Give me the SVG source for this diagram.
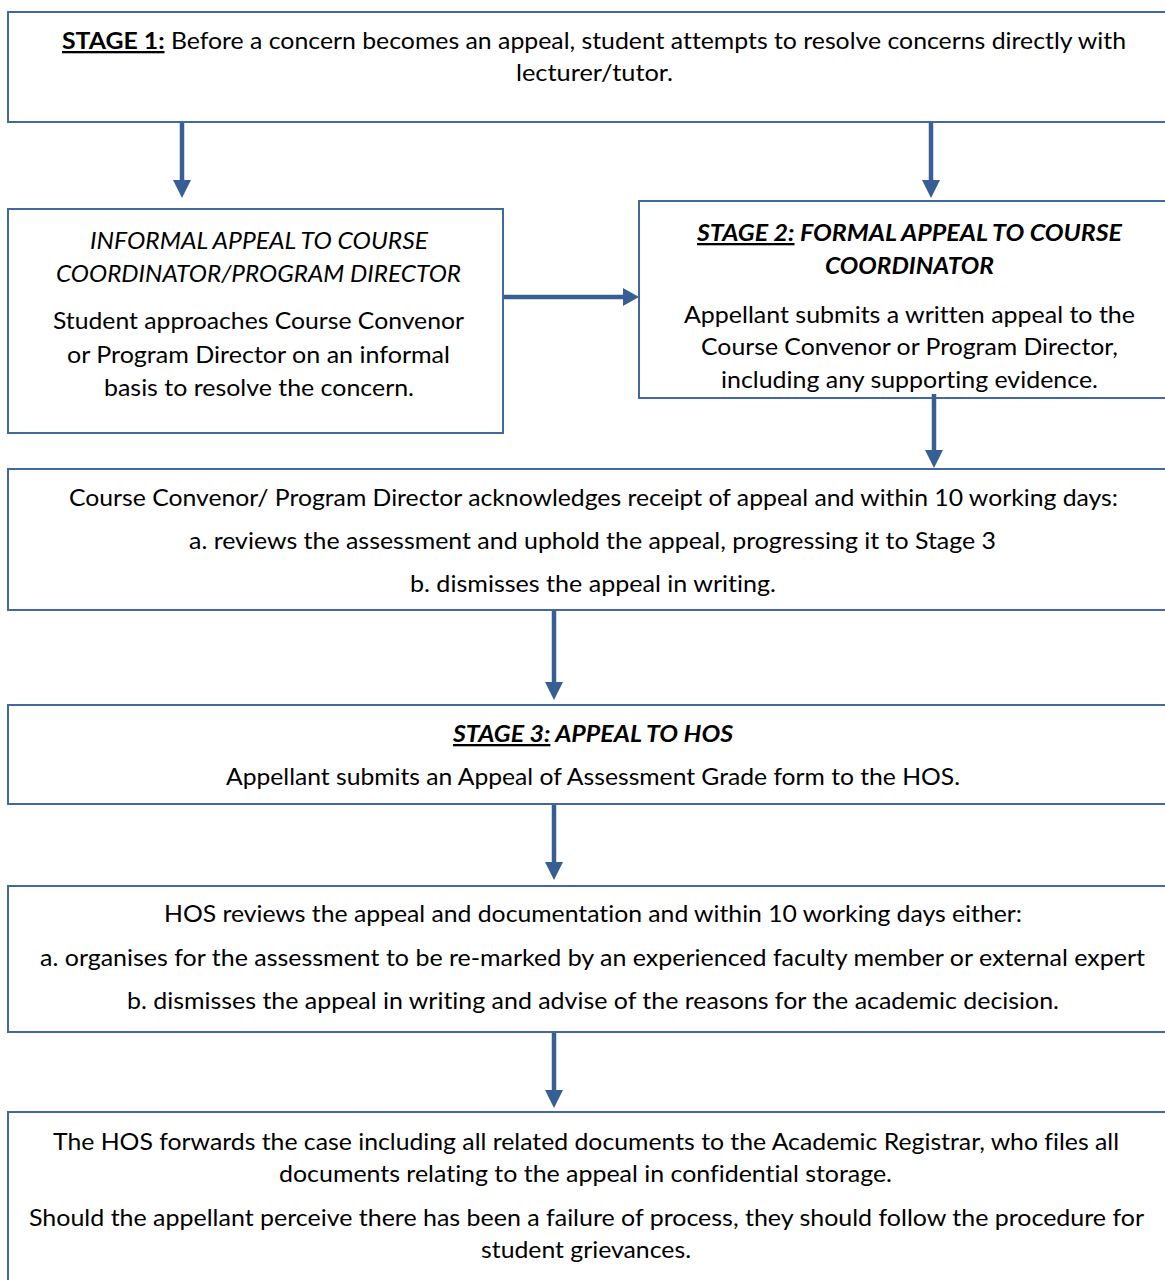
<svg xmlns="http://www.w3.org/2000/svg" width="1165" height="1280" viewBox="0 0 1165 1280">
<style>
.box{fill:#fff;stroke:#41699e;stroke-width:2}
text{font-family:Lato,"Liberation Sans",sans-serif;font-size:23px;fill:#000;text-anchor:middle;font-variant-ligatures:none}
.it{font-style:italic}
.bi{font-style:italic;font-weight:bold}
.b{font-weight:bold}
.u{text-decoration:underline}
.arr{stroke:#385f94;stroke-width:4.5;fill:none}
.head{fill:#385f94}
</style>
<rect width="1165" height="1280" fill="#fff"/>
<g id="stage1">
  <rect class="box" x="8" y="12" width="1170" height="110"/>
  <text x="594" y="49" textLength="1064" lengthAdjust="spacingAndGlyphs"><tspan class="b u">STAGE 1:</tspan> Before a concern becomes an appeal, student attempts to resolve concerns directly with</text>
  <text x="594.5" y="81" textLength="157" lengthAdjust="spacingAndGlyphs">lecturer/tutor.</text>
</g>
<g id="informal">
  <rect class="box" x="8" y="209" width="495" height="224"/>
  <text class="it" x="259" y="249" textLength="338" lengthAdjust="spacingAndGlyphs">INFORMAL APPEAL TO COURSE</text>
  <text class="it" x="258.5" y="282" textLength="405" lengthAdjust="spacingAndGlyphs">COORDINATOR/PROGRAM DIRECTOR</text>
  <text x="258.5" y="329" textLength="411" lengthAdjust="spacingAndGlyphs">Student approaches Course Convenor</text>
  <text x="258.5" y="363" textLength="383" lengthAdjust="spacingAndGlyphs">or Program Director on an informal</text>
  <text x="259" y="396" textLength="310" lengthAdjust="spacingAndGlyphs">basis to resolve the concern.</text>
</g>
<g id="stage2">
  <rect class="box" x="639" y="201" width="540" height="197"/>
  <text class="bi" x="909.5" y="241" textLength="425" lengthAdjust="spacingAndGlyphs"><tspan class="u">STAGE 2:</tspan> FORMAL APPEAL TO COURSE</text>
  <text class="bi" x="909.5" y="274" textLength="169" lengthAdjust="spacingAndGlyphs">COORDINATOR</text>
  <text x="909.5" y="323" textLength="451" lengthAdjust="spacingAndGlyphs">Appellant submits a written appeal to the</text>
  <text x="909.5" y="355" textLength="417" lengthAdjust="spacingAndGlyphs">Course Convenor or Program Director,</text>
  <text x="909.5" y="388" textLength="377" lengthAdjust="spacingAndGlyphs">including any supporting evidence.</text>
</g>
<g id="review1">
  <rect class="box" x="8" y="469" width="1170" height="141"/>
  <text x="593.5" y="506" textLength="1049" lengthAdjust="spacingAndGlyphs">Course Convenor/ Program Director acknowledges receipt of appeal and within 10 working days:</text>
  <text x="592.5" y="549" textLength="807" lengthAdjust="spacingAndGlyphs">a. reviews the assessment and uphold the appeal, progressing it to Stage 3</text>
  <text x="593" y="592" textLength="366" lengthAdjust="spacingAndGlyphs">b. dismisses the appeal in writing.</text>
</g>
<g id="stage3">
  <rect class="box" x="8" y="705" width="1170" height="99"/>
  <text class="bi" x="593" y="742" textLength="280" lengthAdjust="spacingAndGlyphs"><tspan class="u">STAGE 3:</tspan> APPEAL TO HOS</text>
  <text x="593" y="785" textLength="734" lengthAdjust="spacingAndGlyphs">Appellant submits an Appeal of Assessment Grade form to the HOS.</text>
</g>
<g id="hosreview">
  <rect class="box" x="8" y="886" width="1170" height="146"/>
  <text x="593" y="922" textLength="858" lengthAdjust="spacingAndGlyphs">HOS reviews the appeal and documentation and within 10 working days either:</text>
  <text x="592.5" y="966" textLength="1105" lengthAdjust="spacingAndGlyphs">a. organises for the assessment to be re-marked by an experienced faculty member or external expert</text>
  <text x="593" y="1009" textLength="932" lengthAdjust="spacingAndGlyphs">b. dismisses the appeal in writing and advise of the reasons for the academic decision.</text>
</g>
<g id="forward">
  <rect class="box" x="8" y="1112" width="1170" height="180"/>
  <text x="586" y="1150" textLength="1066" lengthAdjust="spacingAndGlyphs">The HOS forwards the case including all related documents to the Academic Registrar, who files all</text>
  <text x="585.5" y="1182" textLength="613" lengthAdjust="spacingAndGlyphs">documents relating to the appeal in confidential storage.</text>
  <text x="586.5" y="1226" textLength="1115" lengthAdjust="spacingAndGlyphs">Should the appellant perceive there has been a failure of process, they should follow the procedure for</text>
  <text x="586" y="1258" textLength="210" lengthAdjust="spacingAndGlyphs">student grievances.</text>
</g>
<g id="connectors">
  <line class="arr" x1="182" y1="123" x2="182" y2="182"/>
  <polygon class="head" points="173,180 191,180 182,198"/>
  <line class="arr" x1="931" y1="123" x2="931" y2="182"/>
  <polygon class="head" points="922,180 940,180 931,198"/>
  <line class="arr" x1="504" y1="297" x2="625" y2="297"/>
  <polygon class="head" points="623,288 623,306 639,297"/>
  <line class="arr" x1="934" y1="394" x2="934" y2="452"/>
  <polygon class="head" points="925,450 943,450 934,468"/>
  <line class="arr" x1="554" y1="611" x2="554" y2="684"/>
  <polygon class="head" points="545,682 563,682 554,700"/>
  <line class="arr" x1="554" y1="805" x2="554" y2="864"/>
  <polygon class="head" points="545,862 563,862 554,880"/>
  <line class="arr" x1="554" y1="1033" x2="554" y2="1092"/>
  <polygon class="head" points="545,1090 563,1090 554,1108"/>
</g>
</svg>
